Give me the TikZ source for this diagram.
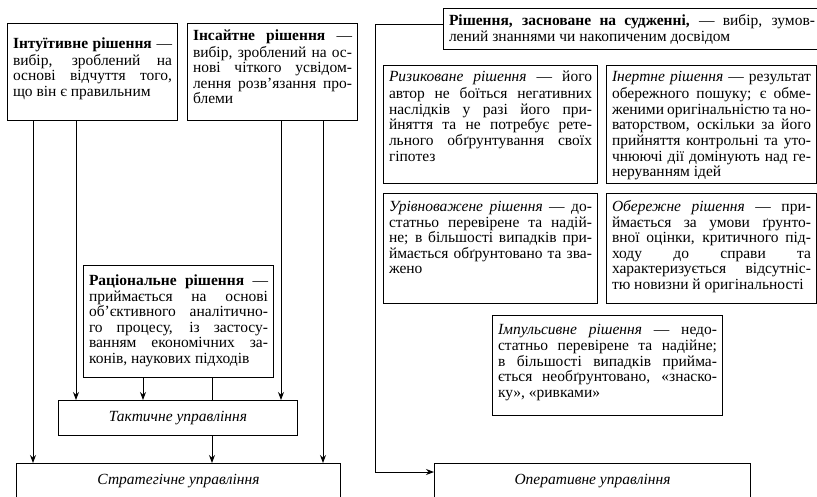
\documentclass[tikz,border=0pt]{standalone}
\usepackage{fontspec}
\setmainfont{Liberation Serif}
\usetikzlibrary{arrows.meta}

% justified line / framed text
\newcommand{\jl}[1]{\makebox[\linewidth][s]{#1}\\}
\newcommand{\bx}[4]{\parbox[c][#2pt][t]{#1pt}{\vspace*{#3pt}\strut#4}}

\tikzset{
  box/.style={draw, line width=1pt, anchor=north west, inner xsep=5.5pt, inner ysep=0pt,
    font=\fontsize{15.5}{15.6}\selectfont},
  arr/.style={-{Stealth[length=8pt,width=6pt]}, line width=1pt},
}

\begin{document}
\begin{tikzpicture}[x=1pt,y=-1pt]
\clip (0,0) rectangle (817,496);
\fill[white] (0,0) rectangle (817,496);

% left group
\node[box] (intu) at (7,23) {\bx{159}{97}{14}{%
\jl{\textbf{Інтуїтивне рішення} —}%
\jl{вибір, зроблений на}%
\jl{основі відчуття того,}%
що він є правильним}};
\node[box] (insa) at (187,23) {\bx{159}{97}{6}{%
\jl{\textbf{Інсайтне рішення} —}%
\jl{вибір, зроблений на ос-}%
\jl{нові чіткого усвідом-}%
\jl{лення розв’язання про-}%
блеми}};
\node[box] (rac) at (83,265) {\bx{179}{112}{9}{%
\jl{\textbf{Раціональне рішення} —}%
\jl{приймається на основі}%
\jl{об’єктивного аналітично-}%
\jl{го процесу, із застосу-}%
\jl{ванням економічних за-}%
конів, наукових підходів}};
\node[box, minimum width=239, minimum height=35, inner xsep=0pt] (takt) at (58,400) {\textit{Тактичне управління}};
\node[box, minimum width=324, minimum height=36, inner xsep=0pt] (strat) at (16,463) {\textit{Стратегічне управління}};

% right group
\node[box] (judg) at (443,8) {\bx{366}{41}{6}{%
\jl{\textbf{Рішення, засноване на судженні,} — вибір, зумов-}%
лений знаннями чи накопиченим досвідом}};
\node[box] (risk) at (383,65) {\bx{203}{118}{5.5}{%
\jl{\textit{Ризиковане рішення} — його}%
\jl{автор не боїться негативних}%
\jl{наслідків у разі його при-}%
\jl{йняття та не потребує рете-}%
\jl{льного обґрунтування своїх}%
гіпотез}};
\node[box] (inert) at (606,65) {\bx{199}{118}{5.5}{%
\jl{\textit{Інертне рішення} — результат}%
\jl{обережного пошуку; є обме-}%
\jl{женими оригінальністю та но-}%
\jl{ваторством, оскільки за його}%
\jl{прийняття контрольні та уто-}%
\jl{чнюючі дії домінують над ге-}%
неруванням ідей}};
\node[box] (urav) at (383,193) {\bx{203}{110}{7}{%
\jl{\textit{Урівноважене рішення} — до-}%
\jl{статньо перевірене та надій-}%
\jl{не; в більшості випадків при-}%
\jl{ймається обґрунтовано та зва-}%
жено}};
\node[box] (oberezh) at (606,193) {\bx{199}{110}{7}{%
\jl{\textit{Обережне рішення} — при-}%
\jl{ймається за умови ґрунто-}%
\jl{вної оцінки, критичного під-}%
\jl{ходу до справи та}%
\jl{характеризується відсутніс-}%
тю новизни й оригінальності}};
\node[box] (impuls) at (492,315) {\bx{219}{100}{8.5}{%
\jl{\textit{Імпульсивне рішення} — недо-}%
\jl{статньо перевірене та надійне;}%
\jl{в більшості випадків прийма-}%
\jl{ється необґрунтовано, «знаско-}%
ку», «ривками»}};
\node[box, minimum width=316, minimum height=36, inner xsep=0pt] (oper) at (434,463) {\textit{Оперативне управління}};

% connectors
\draw[arr] ([xshift=26pt]intu.south west) -- ([xshift=26pt]intu.south west |- strat.north);
\draw[arr] ([xshift=69pt]intu.south west) -- ([xshift=69pt]intu.south west |- takt.north);
\draw[arr] ([xshift=94pt]insa.south west) -- ([xshift=94pt]insa.south west |- takt.north);
\draw[arr] ([xshift=136pt]insa.south west) -- ([xshift=136pt]insa.south west |- strat.north);
\draw[arr] ([xshift=60pt]rac.south west) -- ([xshift=60pt]rac.south west |- takt.north);
\draw[line width=1pt] ([xshift=129pt]rac.south west) -- ([xshift=129pt]rac.south west |- takt.north);
\draw[arr] ([xshift=154pt]takt.south west) -- ([xshift=154pt]takt.south west |- strat.north);
\draw[arr] ([yshift=5pt]judg.west) -- ++(-68,0) |- ([yshift=-9pt]oper.north west);
\end{tikzpicture}
\end{document}
